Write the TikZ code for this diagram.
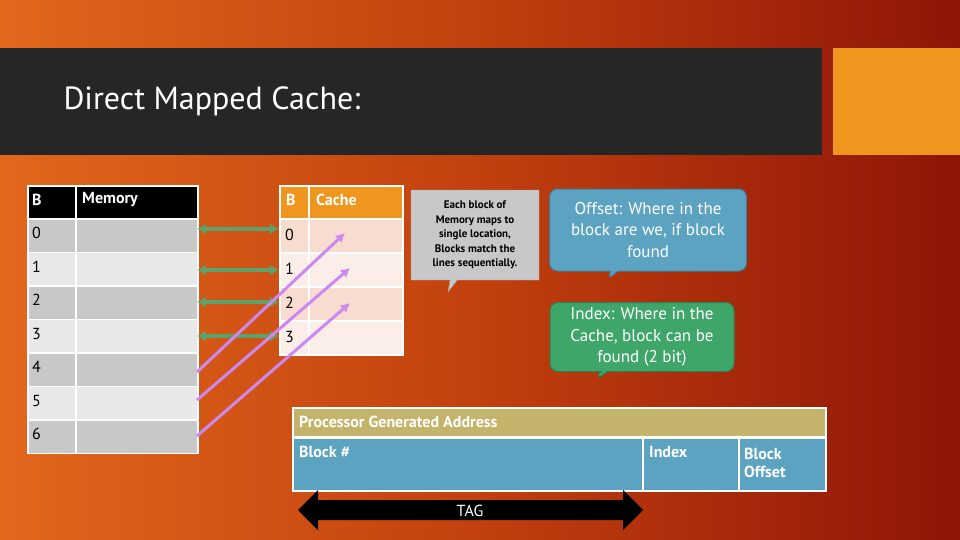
\documentclass[tikz,border=0pt]{standalone}
\usepackage{fontspec}
\setmainfont{PT Sans}
\usetikzlibrary{shapes.callouts,arrows.meta}
\definecolor{bgA}{HTML}{E2681C}
\definecolor{bgM}{HTML}{C2400E}
\definecolor{bgB}{HTML}{8E1508}
\definecolor{bar}{HTML}{262626}
\definecolor{org}{HTML}{F0961E}
\definecolor{gA}{HTML}{C8C8C8}
\definecolor{gB}{HTML}{E8E8E8}
\definecolor{cA}{HTML}{F8DCD0}
\definecolor{cB}{HTML}{FBEEE8}
\definecolor{grn}{HTML}{5BA36A}
\definecolor{pur}{HTML}{CC88EE}
\definecolor{blu}{HTML}{5BA3C0}
\definecolor{blud}{HTML}{3F7F99}
\definecolor{gcall}{HTML}{3FA66A}
\definecolor{gcalld}{HTML}{2F7F4F}
\definecolor{khaki}{HTML}{C4B36A}
\begin{document}
\begin{tikzpicture}[x=1pt,y=-1pt,
 cell/.style={draw=white,line width=1.5pt,anchor=north west,inner sep=0pt},
 txt/.style={anchor=west,font=\fontsize{16}{18}\selectfont,inner sep=0pt},
 garr/.style={draw=grn,line width=3.5pt,{Latex[length=9pt,width=11pt]}-{Latex[length=9pt,width=11pt]}},
 parr/.style={draw=pur,line width=3pt,-{Latex[length=9pt,width=10pt]}}]
\useasboundingbox (0,0) rectangle (960,540);
\shade[shading angle=-60,left color=bgA,right color=bgB,middle color=bgM] (0,0) rectangle (960,540);
\fill[bar] (0,48) rectangle (822,155);
\fill[org] (833,48) rectangle (960,155);
\node[anchor=west,text=white,font=\fontsize{32}{36}\selectfont] (title) at (60,101) {Direct Mapped Cache:};
% memory table
\node[cell,fill=black,minimum width=48pt,minimum height=33pt] (mh0) at (27,185) {};
\node[cell,fill=black,minimum width=122pt,minimum height=33pt] (mh1) at (75,185) {};
\node[txt,text=white] at (32,200) {\textbf{B}};
\node[txt,text=white] at (82,200) {\textbf{Memory}};
\foreach \i/\c in {0/gA,1/gB,2/gA,3/gB,4/gA,5/gB,6/gA}{
 \node[cell,fill=\c,minimum width=48pt,minimum height=33.5pt] (mb\i) at (27,{218+33.5*\i}) {};
 \node[cell,fill=\c,minimum width=122pt,minimum height=33.5pt] (m\i) at (75,{218+33.5*\i}) {};
 \node[txt] at (32,{233+33.5*\i}) {\i};
}
% cache table
\node[cell,fill=org,minimum width=29pt,minimum height=33pt] (ch0) at (279,185) {};
\node[cell,fill=org,minimum width=94pt,minimum height=33pt] (ch1) at (308,185) {};
\node[txt,text=white] at (286,200) {\textbf{B}};
\node[txt,text=white] at (316,200) {\textbf{Cache}};
\foreach \i/\c in {0/cA,1/cB,2/cA,3/cB}{
 \node[cell,fill=\c,minimum width=29pt,minimum height=34pt] (cb\i) at (279,{218+34*\i}) {};
 \node[cell,fill=\c,minimum width=94pt,minimum height=34pt] (c\i) at (308,{218+34*\i}) {};
 \node[txt] at (285,{235+34*\i}) {\i};
}
% green arrows
\foreach \i/\y in {0/229,1/270,2/302,3/336}{
 \coordinate (gl\i) at (197,\y); \coordinate (gr\i) at (279,\y);
 \draw[garr] (gl\i) -- (gr\i);
}
% purple arrows
\coordinate (p4) at (197,372); \coordinate (q0) at (345,233);
\coordinate (p5) at (197,400); \coordinate (q1) at (350,268);
\coordinate (p6) at (197,436); \coordinate (q2) at (350,303);
\draw[parr] (p4) -- (q0);
\draw[parr] (p5) -- (q1);
\draw[parr] (p6) -- (q2);
% callouts
\node[rectangle callout,fill=gA,draw=gA!80!black,minimum width=128pt,minimum height=90pt,inner sep=2pt,
 callout absolute pointer={(448,292)},align=center,font=\fontsize{11}{14.5}\selectfont\bfseries] (note) at (475,235)
 {Each block of\\Memory maps to\\single location,\\Blocks match the\\lines sequentially.};
\node[rectangle callout,rounded corners=8pt,fill=blu,draw=blud,line width=1pt,minimum width=197pt,minimum height=82pt,
 callout absolute pointer={(607,280)},align=center,text=white,font=\fontsize{17}{21.5}\selectfont] (off) at (648,230)
 {Offset: Where in the\\block are we, if block\\found};
\node[rectangle callout,rounded corners=8pt,fill=gcall,draw=gcalld,line width=1pt,minimum width=184pt,minimum height=69pt,
 callout absolute pointer={(595,380)},align=center,text=white,font=\fontsize{17}{21.5}\selectfont] (idx) at (642,337)
 {Index: Where in the\\Cache, block can be\\found (2 bit)};
% address table
\node[cell,fill=khaki,minimum width=533pt,minimum height=29pt] (ah) at (292,407) {};
\node[txt,text=white] at (299,422) {\textbf{Processor Generated Address}};
\node[cell,fill=blu,minimum width=350pt,minimum height=53pt] (a1) at (292,437) {};
\node[cell,fill=blu,minimum width=96pt,minimum height=53pt] (a2) at (642,437) {};
\node[cell,fill=blu,minimum width=87pt,minimum height=53pt] (a3) at (738,437) {};
\node[txt,text=white] at (299,452) {\textbf{Block \#}};
\node[txt,text=white] at (649,452) {\textbf{Index}};
\node[txt,text=white,align=left] at (744,463) {\textbf{Block}\\\textbf{Offset}};
% TAG arrow
\fill[black] (298,510) -- (318,490) -- (318,500) -- (623,500) -- (623,490) -- (643,510)
 -- (623,530) -- (623,520) -- (318,520) -- (318,530) -- cycle;
\node[text=white,font=\fontsize{16}{18}\selectfont] (tag) at (470,511) {TAG};
\end{tikzpicture}
\end{document}
